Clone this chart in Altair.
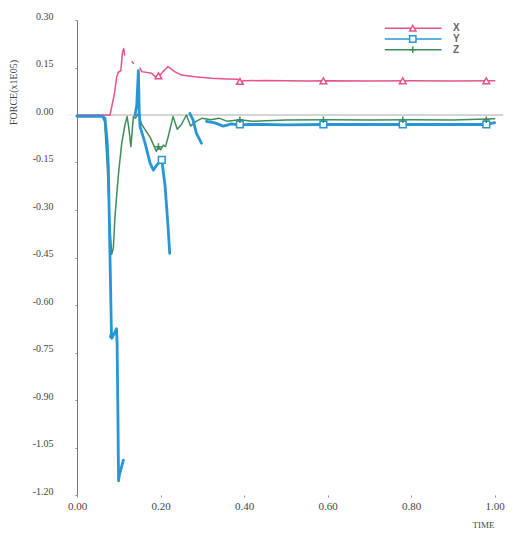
import altair as alt
import pandas as pd

series_names = ["X", "Y", "Z"]
series_colors = ["#e6528b", "#2896d6", "#3f8c5a"]

# X series (pink)
x_t = [0.0, 0.079, 0.090, 0.095, 0.099, 0.105, 0.109, 0.112, 0.114,
       0.132, 0.135,
       0.151, 0.155, 0.179, 0.187, 0.195, 0.199, 0.206, 0.218, 0.234, 0.250, 0.282,
       0.322, 0.360, 0.385, 0.390, 0.400, 0.450, 0.500, 0.550, 0.600, 0.700, 0.800,
       0.900, 1.000]
x_v = [0.0, 0.0, 0.070, 0.120, 0.135, 0.140, 0.200, 0.210, 0.190,
       0.168, 0.163,
       0.148, 0.137, 0.132, 0.121, 0.124, 0.126, 0.137, 0.153, 0.137, 0.126, 0.121,
       0.116, 0.114, 0.113, 0.106, 0.108, 0.109, 0.108, 0.107, 0.108, 0.107, 0.108,
       0.107, 0.108]
x_seg = [0] * 9 + [1] * 2 + [2] * 24

# Y series (blue)
y_t = [0.0, 0.060, 0.067, 0.072, 0.075, 0.079, 0.0825, 0.080, 0.0835, 0.0945,
       0.096, 0.098, 0.0995, 0.101, 0.111,
       0.139, 0.143, 0.147, 0.149, 0.151, 0.163, 0.175, 0.183, 0.191, 0.199,
       0.203, 0.211, 0.218, 0.222,
       0.270, 0.278, 0.286, 0.298,
       0.310, 0.330, 0.350, 0.370, 0.390, 0.410, 0.450, 0.500, 0.590, 0.650,
       0.780, 0.850, 0.980, 1.000]
y_v = [-0.004, -0.004, -0.010, -0.080, -0.163, -0.447, -0.690, -0.700, -0.705, -0.675,
       -0.720, -0.950, -1.155, -1.140, -1.090,
       0.000, 0.030, 0.140, 0.010, -0.037, -0.089, -0.152, -0.174, -0.158, -0.147,
       -0.140, -0.226, -0.353, -0.437,
       0.005, -0.016, -0.058, -0.089,
       -0.020, -0.025, -0.035, -0.028, -0.032, -0.030, -0.030, -0.031, -0.030, -0.030,
       -0.030, -0.030, -0.030, -0.024]
y_seg = [0] * 15 + [1] * 14 + [2] * 4 + [3] * 14

# Z series (green)
z_t = [0.0, 0.060, 0.066, 0.072, 0.078, 0.083, 0.087, 0.091, 0.099, 0.107,
       0.115, 0.120, 0.124, 0.129, 0.135, 0.140, 0.147, 0.155, 0.165, 0.175,
       0.185, 0.190, 0.195, 0.200, 0.207, 0.212, 0.220, 0.230, 0.240, 0.250,
       0.262, 0.272, 0.285, 0.300, 0.320, 0.340, 0.360, 0.390, 0.420, 0.500,
       0.600, 0.700, 0.800, 0.900, 1.000]
z_v = [-0.004, -0.004, -0.020, -0.150, -0.330, -0.440, -0.420, -0.320, -0.190, -0.090,
       -0.030, -0.005, -0.040, -0.100, -0.005, -0.010, 0.005, -0.030, -0.050, -0.070,
       -0.100, -0.115, -0.100, -0.110, -0.095, -0.100, -0.060, -0.005, -0.045, -0.030,
       0.000, -0.035, -0.020, -0.010, -0.015, -0.010, -0.020, -0.015, -0.020, -0.016,
       -0.015, -0.016, -0.015, -0.016, -0.012]
z_seg = [0] * 45

# markers
mx_t = [0.195, 0.390, 0.590, 0.780, 0.980]
mx_v = [0.124, 0.106, 0.108, 0.108, 0.108]
my_t = [0.203, 0.390, 0.590, 0.780, 0.980]
my_v = [-0.142, -0.030, -0.030, -0.030, -0.030]
mz_t = [0.195, 0.390, 0.590, 0.780, 0.980]
mz_v = [-0.100, -0.015, -0.015, -0.015, -0.015]

# legend (in data coordinates)
leg_t0 = [0.737, 0.737, 0.737]
leg_t1 = [0.873, 0.873, 0.873]
leg_tm = [0.804, 0.804, 0.804]
leg_tl = [0.900, 0.900, 0.900]
leg_v = [0.274, 0.240, 0.206]

y_ticks = [0.30, 0.15, 0.00, -0.15, -0.30, -0.45, -0.60, -0.75, -0.90, -1.05, -1.20]
x_ticks = [0.0, 0.2, 0.4, 0.6, 0.8, 1.0]
zero_line = [0.0]

shape_paths = ["triangle-up", "square", "M0,-1L0,1M-1,0L1,0"]

xs = alt.Scale(domain=[0, 1.02], nice=False, zero=False)
ys = alt.Scale(domain=[-1.2, 0.3], nice=False, zero=False)
cs = alt.Scale(domain=series_names, range=series_colors)
ss = alt.Scale(domain=series_names, range=shape_paths)

FONT = "Liberation Serif"

def line_df(t, v, seg, name):
    return pd.DataFrame({"t": t, "v": v, "seg": [f"{name}{s}" for s in seg],
                         "i": list(range(len(t))), "series": name})

x_axis = alt.Axis(values=x_ticks, labelExpr="format(datum.value, '.2f')", domain=False,
                  grid=False, tickSize=2, tickColor="#888", labelPadding=3, labelFlush=False,
                  labelFont=FONT, labelFontSize=11, labelColor="#444",
                  title="TIME", titleFont=FONT, titleFontSize=9, titleFontWeight="normal",
                  titleColor="#444", titleAnchor="start", titleX=406, titleY=29,
                  titleAlign="center", titleBaseline="middle")
y_axis = alt.Axis(values=y_ticks,
                  labelExpr="(datum.value < 0 ? '-' : '') + format(abs(datum.value), '.2f')",
                  domain=True, domainColor="#777", grid=False, tickSize=2, tickColor="#888",
                  labelPadding=22, labelOffset=-4, labelFont=FONT, labelFontSize=10,
                  labelColor="#444",
                  title="FORCE(x1E05)", titleFont=FONT, titleFontSize=10,
                  titleFontWeight="normal", titleColor="#444", titleX=-64, titleY=72,
                  titleAngle=270, titleAlign="center", titleBaseline="middle")

def make_line(df, width):
    return alt.Chart(df).mark_line(strokeWidth=width, strokeJoin="round", strokeCap="round").encode(
        x=alt.X("t:Q", scale=xs, axis=x_axis),
        y=alt.Y("v:Q", scale=ys, axis=y_axis),
        color=alt.Color("series:N", scale=cs, legend=None),
        detail="seg:N",
        order="i:Q",
    )

zero = alt.Chart(pd.DataFrame({"v": zero_line})).mark_rule(color="#aaa", strokeWidth=1).encode(
    y=alt.Y("v:Q", scale=ys, axis=y_axis)
)

lx = make_line(line_df(x_t, x_v, x_seg, "X"), 1.5)
ly = make_line(line_df(y_t, y_v, y_seg, "Y"), 2.8)
lz = make_line(line_df(z_t, z_v, z_seg, "Z"), 1.5)

markers_df = pd.concat([
    pd.DataFrame({"t": mx_t, "v": mx_v, "series": "X"}),
    pd.DataFrame({"t": my_t, "v": my_v, "series": "Y"}),
    pd.DataFrame({"t": mz_t, "v": mz_v, "series": "Z"}),
])
markers = alt.Chart(markers_df).mark_point(filled=False, fill="white", fillOpacity=1,
                                           size=45, strokeWidth=1.5, opacity=1).encode(
    x=alt.X("t:Q", scale=xs, axis=x_axis),
    y=alt.Y("v:Q", scale=ys, axis=y_axis),
    color=alt.Color("series:N", scale=cs, legend=None),
    shape=alt.Shape("series:N", scale=ss, legend=None),
)

leg_df = pd.DataFrame({"t0": leg_t0, "t1": leg_t1, "tm": leg_tm, "tl": leg_tl,
                       "v": leg_v, "series": series_names})
leg_rule = alt.Chart(leg_df).mark_rule(strokeWidth=1.3).encode(
    x=alt.X("t0:Q", scale=xs), x2="t1:Q",
    y=alt.Y("v:Q", scale=ys),
    color=alt.Color("series:N", scale=cs, legend=None),
)
leg_pt = alt.Chart(leg_df).mark_point(filled=False, fill="white", fillOpacity=1,
                                      size=40, strokeWidth=1.5, opacity=1).encode(
    x=alt.X("tm:Q", scale=xs),
    y=alt.Y("v:Q", scale=ys),
    color=alt.Color("series:N", scale=cs, legend=None),
    shape=alt.Shape("series:N", scale=ss, legend=None),
)
leg_txt = alt.Chart(leg_df).mark_text(align="left", baseline="middle", font="Liberation Sans",
                                      fontSize=10, fontWeight="bold", color="#666").encode(
    x=alt.X("tl:Q", scale=xs),
    y=alt.Y("v:Q", scale=ys),
    text="series:N",
)

chart = alt.layer(zero, lx, lz, ly, markers, leg_rule, leg_pt, leg_txt).properties(
    width=426, height=475,
    autosize=alt.AutoSizeParams(type="none"),
    padding={"left": 69, "top": 12, "right": 3, "bottom": 40},
    background="white",
).configure_view(stroke=None)

chart.save("out.html", embed_options={"renderer": "svg", "actions": False})
